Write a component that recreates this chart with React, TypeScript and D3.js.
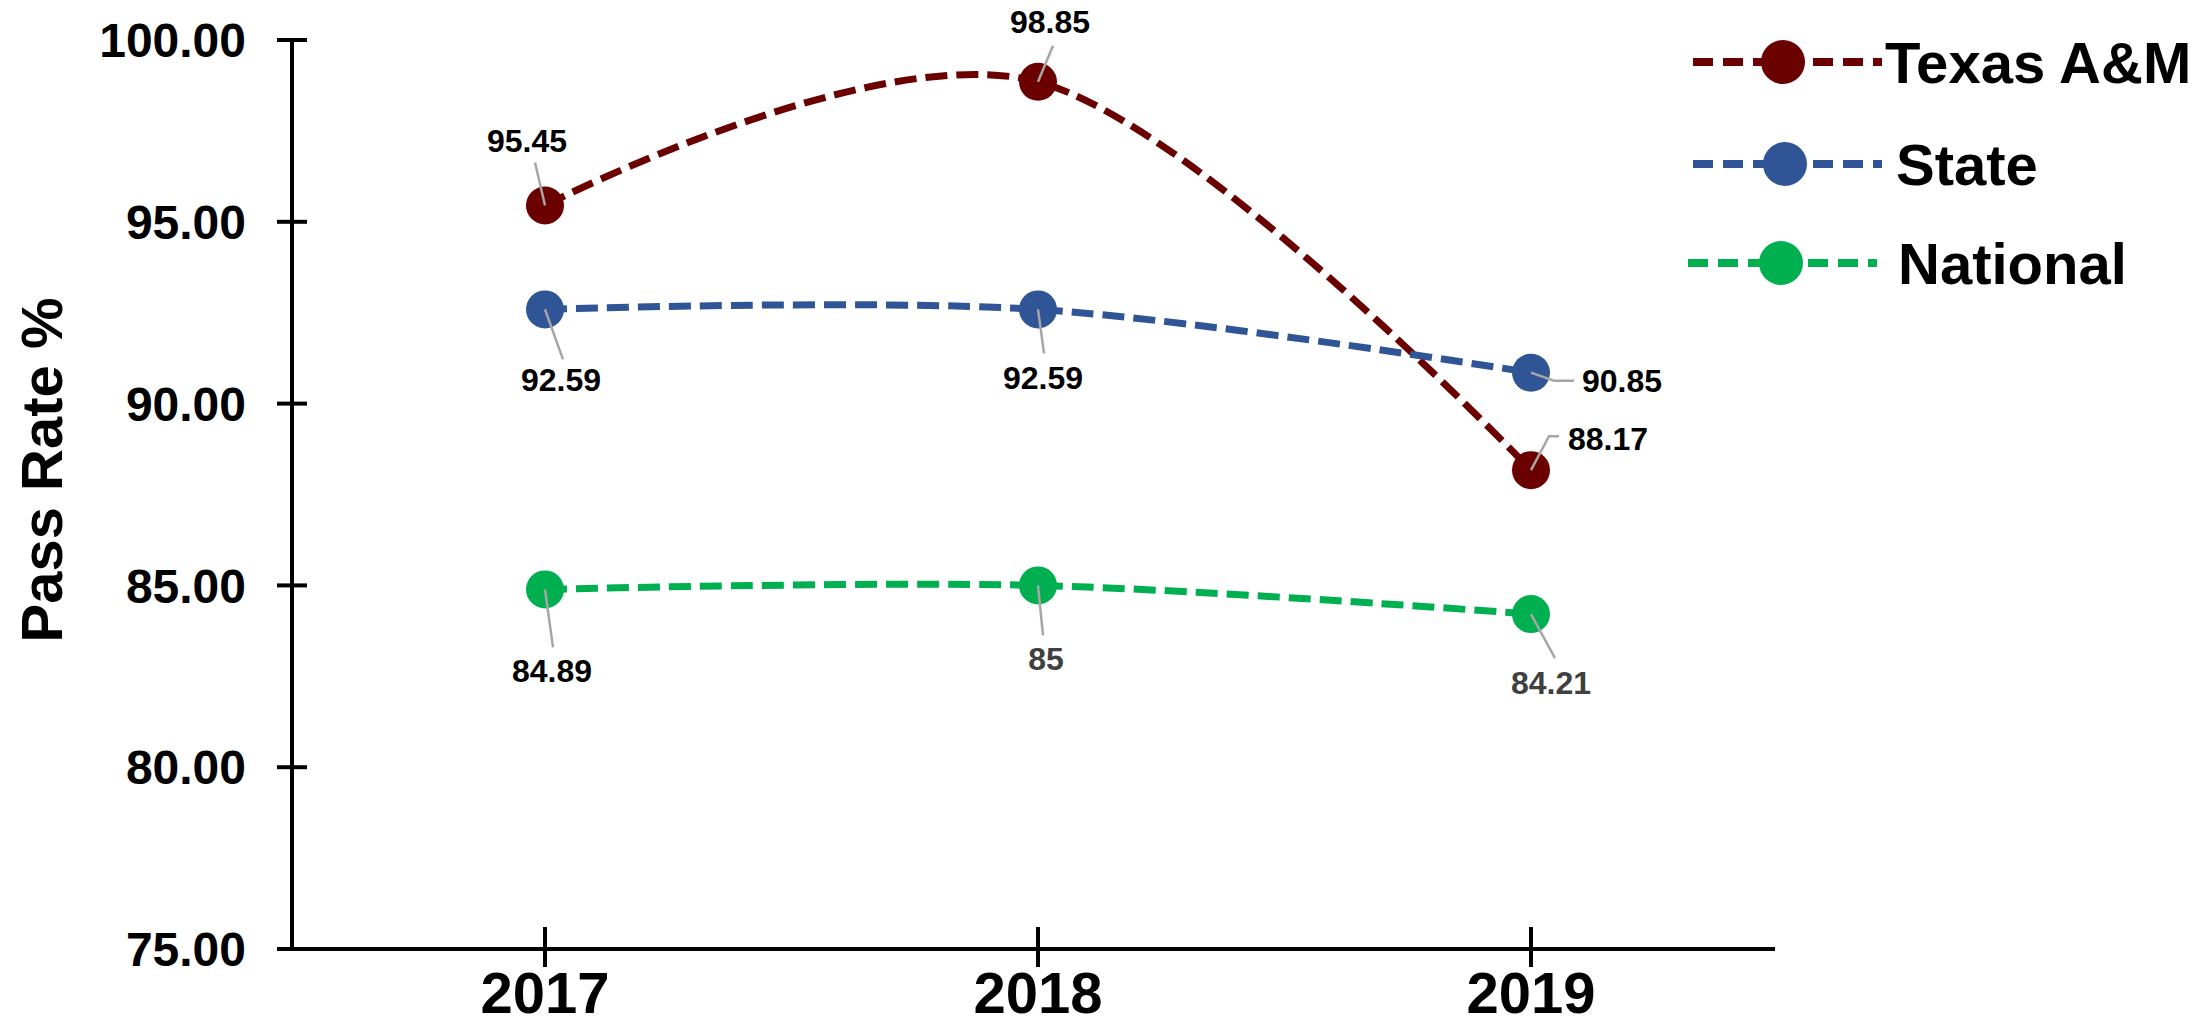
import React, { useRef, useEffect } from "react";
import * as d3 from "d3";

const years = ["2017", "2018", "2019"];
const seriesNames = ["Texas A&M", "State", "National"];
const texasRates = [95.45, 98.85, 88.17];
const stateRates = [92.59, 92.59, 90.85];
const nationalRates = [84.89, 85, 84.21];
const yTickValues = [75, 80, 85, 90, 95, 100];

const seriesColors = ["#6a0000", "#2f5597", "#00b050"];

// where each data label sits relative to its point: [dx, dy, anchor], leader points
const labelPlacement: [number, number, string, [number, number][]][][] = [
    [
        [-18, -65, "middle", [[-10, -43]]],
        [12, -60, "middle", [[15, -36]]],
        [37, -32, "start", [[18, -34], [28, -34]]],
    ],
    [
        [16, 70, "middle", [[18, 50]]],
        [5, 68, "middle", [[6, 44]]],
        [51, 8, "start", [[23, 8], [43, 8]]],
    ],
    [
        [7, 81, "middle", [[8, 58]]],
        [8, 73, "middle", [[5, 50]]],
        [20, 68, "middle", [[24, 44]]],
    ],
];
const labelColors = [
    ["#000", "#000", "#000"],
    ["#000", "#000", "#000"],
    ["#000", "#404040", "#404040"],
];

const App: React.FC = () => {
    const svgRef = useRef<SVGSVGElement | null>(null);

    useEffect(() => {
        const width = 2207;
        const height = 1027;
        const font = "'Liberation Sans', Arial, sans-serif";

        const series = seriesNames.map((name, i) => ({
            name,
            values: [texasRates, stateRates, nationalRates][i],
            color: seriesColors[i],
        }));

        const x = d3.scalePoint<string>().domain(years).range([545, 1531]);
        const y = d3.scaleLinear().domain([75, 100]).range([949, 40]);
        const axisX = 292;
        const axisEnd = 1775;

        const svg = d3.select(svgRef.current);
        svg.selectAll("*").remove();
        svg.attr("width", width).attr("height", height);
        svg.append("rect").attr("width", width).attr("height", height).attr("fill", "#fff");

        // y axis
        const gy = svg.append("g");
        gy.append("line")
            .attr("x1", axisX).attr("x2", axisX)
            .attr("y1", y(100)).attr("y2", y(75))
            .attr("stroke", "#000").attr("stroke-width", 4);
        gy.selectAll("line.tick")
            .data(yTickValues)
            .join("line")
            .attr("class", "tick")
            .attr("x1", axisX - 15).attr("x2", axisX + 15)
            .attr("y1", (d) => y(d)).attr("y2", (d) => y(d))
            .attr("stroke", "#000").attr("stroke-width", 4);
        gy.selectAll("text")
            .data(yTickValues)
            .join("text")
            .attr("x", axisX - 46)
            .attr("y", (d) => y(d))
            .attr("dy", "0.36em")
            .attr("text-anchor", "end")
            .style("font", `bold 48px ${font}`)
            .text((d) => d3.format(".2f")(d));

        // x axis
        const gx = svg.append("g");
        gx.append("line")
            .attr("x1", axisX - 15).attr("x2", axisEnd)
            .attr("y1", y(75)).attr("y2", y(75))
            .attr("stroke", "#000").attr("stroke-width", 4);
        gx.selectAll("line.tick")
            .data(years)
            .join("line")
            .attr("class", "tick")
            .attr("x1", (d) => x(d)!).attr("x2", (d) => x(d)!)
            .attr("y1", y(75) - 22).attr("y2", y(75) + 18)
            .attr("stroke", "#000").attr("stroke-width", 4);
        gx.selectAll("text")
            .data(years)
            .join("text")
            .attr("x", (d) => x(d)!)
            .attr("y", 1013)
            .attr("text-anchor", "middle")
            .style("font", `bold 58px ${font}`)
            .text((d) => d);

        // y axis title
        svg.append("text")
            .attr("transform", "translate(62,470) rotate(-90)")
            .attr("text-anchor", "middle")
            .style("font", `bold 58px ${font}`)
            .text("Pass Rate %");

        const line = d3
            .line<number>()
            .x((_, i) => x(years[i])!)
            .y((d) => y(d))
            .curve(d3.curveCardinal.tension(0));

        series.forEach((s) => {
            const g = svg.append("g");
            g.append("path")
                .attr("d", line(s.values))
                .attr("fill", "none")
                .attr("stroke", s.color)
                .attr("stroke-width", 7)
                .attr("stroke-dasharray", "22 9");
            g.selectAll("circle")
                .data(s.values)
                .join("circle")
                .attr("cx", (_, i) => x(years[i])!)
                .attr("cy", (d) => y(d))
                .attr("r", 19)
                .attr("fill", s.color);
        });

        // data labels with leader lines
        series.forEach((s, si) => {
            const g = svg.append("g");
            s.values.forEach((v, i) => {
                const px = x(years[i])!;
                const py = y(v);
                const [dx, dy, anchor, bends] = labelPlacement[si][i];
                const pts: [number, number][] = [[px, py], ...bends.map(([bx, by]) => [px + bx, py + by] as [number, number])];
                g.append("path")
                    .attr("d", d3.line()(pts))
                    .attr("fill", "none")
                    .attr("stroke", "#a6a6a6")
                    .attr("stroke-width", 2.5);
                g.append("text")
                    .attr("x", px + dx)
                    .attr("y", py + dy)
                    .attr("dy", "0.36em")
                    .attr("text-anchor", anchor)
                    .attr("fill", labelColors[si][i])
                    .style("font", `bold 32px ${font}`)
                    .text(String(v));
            });
        });

        // legend
        const legendRows = [62, 164, 263];
        const legendLine = [[1693, 1882], [1693, 1882], [1688, 1877]];
        const legendMarker = [1783, 1785, 1781];
        const legendText = [1885, 1896, 1898];
        const legend = svg.append("g");
        series.forEach((s, i) => {
            const ly = legendRows[i];
            legend.append("line")
                .attr("x1", legendLine[i][0]).attr("x2", legendLine[i][1])
                .attr("y1", ly).attr("y2", ly)
                .attr("stroke", s.color)
                .attr("stroke-width", 8)
                .attr("stroke-dasharray", "20 10");
            legend.append("circle")
                .attr("cx", legendMarker[i]).attr("cy", ly)
                .attr("r", 22)
                .attr("fill", s.color);
            legend.append("text")
                .attr("x", legendText[i])
                .attr("y", ly)
                .attr("dy", "0.36em")
                .style("font", `bold 58px ${font}`)
                .text(s.name);
        });
    }, []);

    return (
        <div>
            <svg ref={svgRef} width="2207" height="1027" style={{ position: "absolute", left: 0, top: 0 }} />
        </div>
    );
};

export default App;
